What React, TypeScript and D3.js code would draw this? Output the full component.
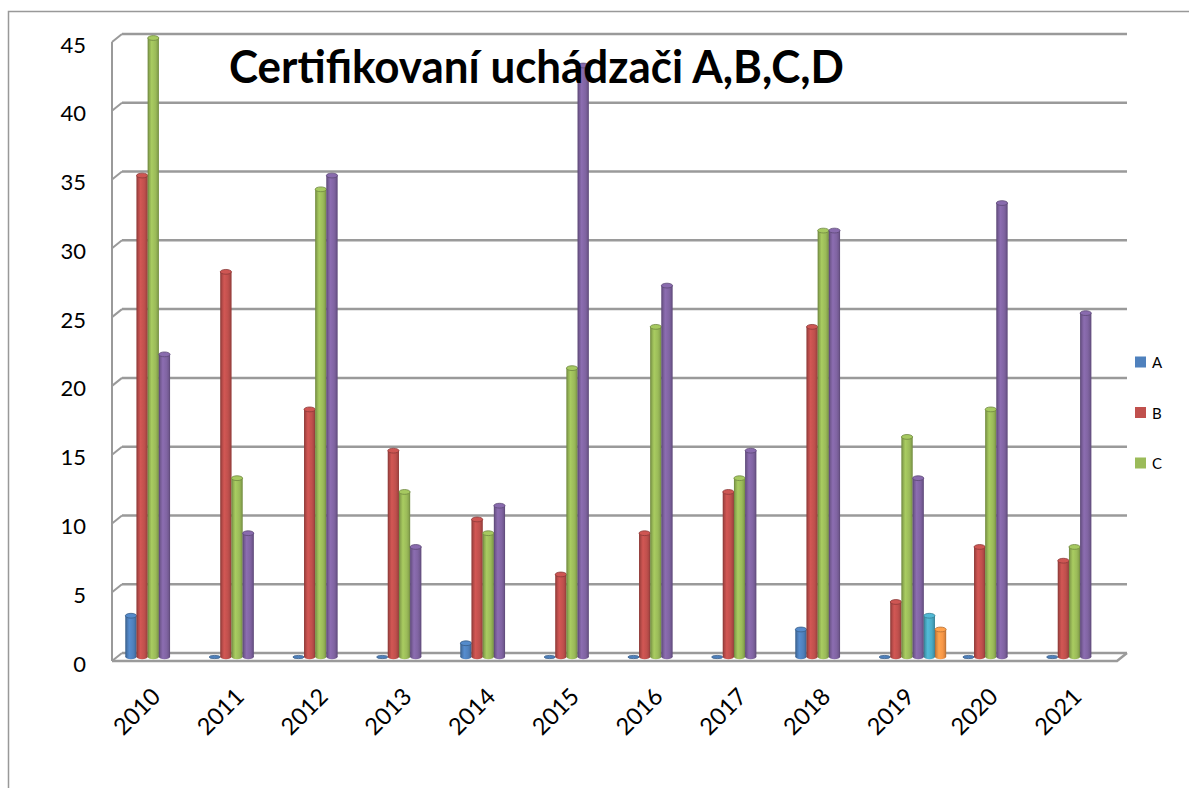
import React from "react"
import * as d3 from "d3"

const years = ["2010", "2011", "2012", "2013", "2014", "2015", "2016", "2017", "2018", "2019", "2020", "2021"]
const seriesNames = ["A", "B", "C", "D", "E", "F"]
const valuesA = [3, 0, 0, 0, 1, 0, 0, 0, 2, 0, 0, 0]
const valuesB = [35, 28, 18, 15, 10, 6, 9, 12, 24, 4, 8, 7]
const valuesC = [45, 13, 34, 12, 9, 21, 24, 13, 31, 16, 18, 8]
const valuesD = [22, 9, 35, 8, 11, 43, 27, 15, 31, 13, 33, 25]
const valuesE = [null, null, null, null, null, null, null, null, null, 3, null, null]
const valuesF = [null, null, null, null, null, null, null, null, null, 2, null, null]
const colors = ["#4F81BD", "#C0504D", "#9BBB59", "#8064A2", "#4BACC6", "#F79646"]
const legendNames = ["A", "B", "C"] // the legend is cut off at the right edge
const yTicks = [0, 5, 10, 15, 20, 25, 30, 35, 40, 45]
const title = "Certifikovaní uchádzači A,B,C,D"

const allSeries = [valuesA, valuesB, valuesC, valuesD, valuesE, valuesF]

export default function App() {
  const W = 1189, H = 788
  // the 3d box: bars sit in the middle plane, walls are offset by depth
  const dx = 5, dy = 4
  const x0 = d3.scaleBand().domain(years).range([117, 1122]).paddingInner(0).paddingOuter(0)
  const x1 = d3.scaleBand().domain(seriesNames).range([0, x0.bandwidth()]).paddingInner(0).paddingOuter(0.75)
  const y = d3.scaleLinear().domain([0, 45]).range([657, 38])
  const bw = x1.bandwidth()
  const grid = "#9a9a9a"
  const font = "Lato, 'Open Sans', sans-serif"

  const left = x0.range()[0], right = x0.range()[1]

  return (
    <svg width={W} height={H} style={{ position: "absolute", left: 0, top: 0, background: "#fff" }}>
      <defs>
        {colors.map((c, i) => {
          const base = d3.color(c)
          return (
            <linearGradient key={i} id={"cyl" + i} x1="0" x2="1" y1="0" y2="0">
              <stop offset="0%" stopColor={base.darker(0.7).toString()} />
              <stop offset="35%" stopColor={base.brighter(0.25).toString()} />
              <stop offset="70%" stopColor={c} />
              <stop offset="100%" stopColor={base.darker(0.6).toString()} />
            </linearGradient>
          )
        })}
      </defs>

      {/* chart frame */}
      <path d={`M8.5,${H} V11.5 H${W}`} fill="none" stroke="#999" strokeWidth={1.5} />

      {/* walls + gridlines */}
      {yTicks.map(t => (
        <g key={t}>
          <line x1={left + dx} x2={right + dx} y1={y(t) - dy} y2={y(t) - dy} stroke={grid} strokeWidth={2.5} />
          <line x1={left - dx} x2={left + dx} y1={y(t) + dy} y2={y(t) - dy} stroke={grid} strokeWidth={2} />
          <text x={86} y={y(t) + dy + 2} textAnchor="end" dominantBaseline="central"
            fontFamily={font} fontSize={22} fill="#000">{t}</text>
        </g>
      ))}
      <line x1={left - dx} x2={left - dx} y1={y(45) + dy} y2={y(0) + dy} stroke={grid} strokeWidth={2} />
      {/* floor */}
      <path d={`M${left - dx},${y(0) + dy} H${right - dx} L${right + dx},${y(0) - dy}`}
        fill="none" stroke={grid} strokeWidth={2.5} />

      {/* cylinders */}
      {years.map((yr, i) => (
        <g key={yr} transform={`translate(${x0(yr)},0)`}>
          {allSeries.map((vals, s) => {
            const v = vals[i]
            if (v === null || v === undefined) return null
            const bx = x1(seriesNames[s])
            const cx = bx + bw / 2
            const top = y(v)
            const base = y(0)
            const dark = d3.color(colors[s]).darker(0.9).toString()
            return (
              <g key={s}>
                {v > 0 && (
                  <>
                    <rect x={bx} y={top} width={bw} height={base - top} fill={`url(#cyl${s})`} />
                    <ellipse cx={cx} cy={base} rx={bw / 2} ry={2.2} fill={`url(#cyl${s})`} />
                    <line x1={bx + 0.5} x2={bx + 0.5} y1={top} y2={base} stroke={dark} strokeWidth={0.8} strokeOpacity={0.6} />
                    <line x1={bx + bw - 0.5} x2={bx + bw - 0.5} y1={top} y2={base} stroke={dark} strokeWidth={0.8} strokeOpacity={0.6} />
                  </>
                )}
                <ellipse cx={cx} cy={v > 0 ? top : base} rx={bw / 2} ry={v > 0 ? 2.4 : 1.6}
                  fill={d3.color(colors[s]).brighter(v > 0 ? 0.2 : 0).toString()} stroke={dark} strokeWidth={0.8} />
              </g>
            )
          })}
          <text transform={`translate(${x0.bandwidth() / 2 + 3},${698}) rotate(-45)`} textAnchor="end"
            fontFamily={font} fontSize={23.5} fill="#000">{yr}</text>
        </g>
      ))}

      {/* legend */}
      {legendNames.map((n, i) => (
        <g key={n} transform={`translate(1135,${362 + i * 50.5})`}>
          <rect x={0} y={-5.5} width={11} height={11} fill={colors[i]} />
          <text x={17} y={0} dominantBaseline="central" fontFamily={font} fontSize={15} fill="#000">{n}</text>
        </g>
      ))}

      {/* title */}
      <text x={229} y={83} fontFamily={font} fontWeight="bold" fontSize={45} fill="#000"
        textLength={615} lengthAdjust="spacingAndGlyphs">{title}</text>
    </svg>
  )
}
